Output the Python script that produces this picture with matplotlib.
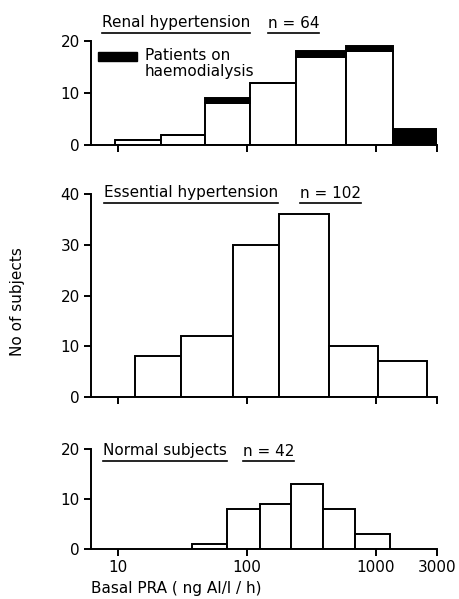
import numpy as np
import matplotlib.pyplot as plt
from matplotlib.patches import Rectangle
from matplotlib.lines import Line2D

# bin edges (ng AI/l/h) and counts
renal_edges = [9.6, 21.7, 47.9, 107, 241, 590, 1378, 3000]
renal_counts = [1, 2, 8, 12, 17, 18, 0]
renal_dialysis = [0, 0, 1, 0, 1, 1, 3]

essential_edges = [13.6, 31, 78, 178, 436, 1054, 2510]
essential_counts = [8, 12, 30, 36, 10, 7]

normal_edges = [37.8, 71, 126, 220, 391, 697, 1286]
normal_counts = [1, 8, 9, 13, 8, 3]

xticks = [10, 100, 1000, 3000]
xticklabels = ['10', '100', '1000', '3000']

titles = [("Renal hypertension", "n = 64"),
          ("Essential hypertension", "n = 102"),
          ("Normal subjects", "n = 42")]

W, H = 460, 599
LW = 1.4
FS = 11

fig = plt.figure(figsize=(W / 100, H / 100), dpi=100)

def px_axes(left, right, top, bottom):
    # pixel box -> figure fractions
    return [left / W, 1 - bottom / H, (right - left) / W, (bottom - top) / H]

def bars(ax, edges, counts, bottom=None, color='white'):
    edges = np.array(edges, dtype=float)
    ax.bar(edges[:-1], counts, width=np.diff(edges), align='edge',
           bottom=bottom, color=color, edgecolor='black', linewidth=LW)

def style(ax, ymax, yticks, show_xlabels):
    ax.set_xscale('log')
    ax.set_xlim(6.2, 3000)
    ax.set_ylim(0, ymax)
    ax.set_yticks(yticks)
    ax.set_yticklabels([str(t) for t in yticks], fontsize=FS)
    ax.set_xticks(xticks)
    ax.minorticks_off()
    if show_xlabels:
        ax.set_xticklabels(xticklabels, fontsize=FS)
    else:
        ax.set_xticklabels([])
    for s in ['top', 'right']:
        ax.spines[s].set_visible(False)
    for s in ['left', 'bottom']:
        ax.spines[s].set_linewidth(LW)
    ax.tick_params(axis='both', direction='out', length=5, width=LW, pad=3)
    ax.patch.set_alpha(0)

ax1 = fig.add_axes(px_axes(91, 437, 41, 145))
bars(ax1, renal_edges, renal_counts)
bars(ax1, renal_edges, renal_dialysis, bottom=renal_counts, color='black')
style(ax1, 20, [0, 10, 20], False)
ax1.add_patch(Rectangle((0.02, 0.81), 0.113, 0.085, transform=ax1.transAxes,
                        color='black', clip_on=False))
ax1.text(0.156, 0.785, "Patients on\nhaemodialysis", transform=ax1.transAxes,
         fontsize=FS, va='center', ha='left', linespacing=1.1)

ax2 = fig.add_axes(px_axes(91, 437, 194, 397))
bars(ax2, essential_edges, essential_counts)
style(ax2, 40, [0, 10, 20, 30, 40], False)

ax3 = fig.add_axes(px_axes(91, 437, 449, 549))
bars(ax3, normal_edges, normal_counts)
style(ax3, 20, [0, 10, 20], True)

fig.text(18 / W, 1 - 302 / H, "No of subjects", rotation=90, fontsize=FS,
         ha='center', va='center')
fig.text(91 / W, 1 - 588 / H, "Basal PRA ( ng AI/l / h)", fontsize=FS,
         ha='left', va='center')

# titles with underlines
title_pos = [(102, 268, 23), (104, 300, 193), (103, 243, 451)]
title_texts = []
for (t, n), (x1, x2, y) in zip(titles, title_pos):
    a = fig.text(x1 / W, 1 - y / H, t, fontsize=FS, ha='left', va='center')
    b = fig.text(x2 / W, 1 - y / H, n, fontsize=FS, ha='left', va='center')
    title_texts += [a, b]

fig.canvas.draw()
r = fig.canvas.get_renderer()
for t in title_texts:
    bb = t.get_window_extent(r)
    yy = (bb.y0 - 2) / H
    fig.add_artist(Line2D([bb.x0 / W, bb.x1 / W], [yy, yy], color='black',
                          linewidth=1.2, transform=fig.transFigure))

fig.savefig('out.png', dpi=100)
